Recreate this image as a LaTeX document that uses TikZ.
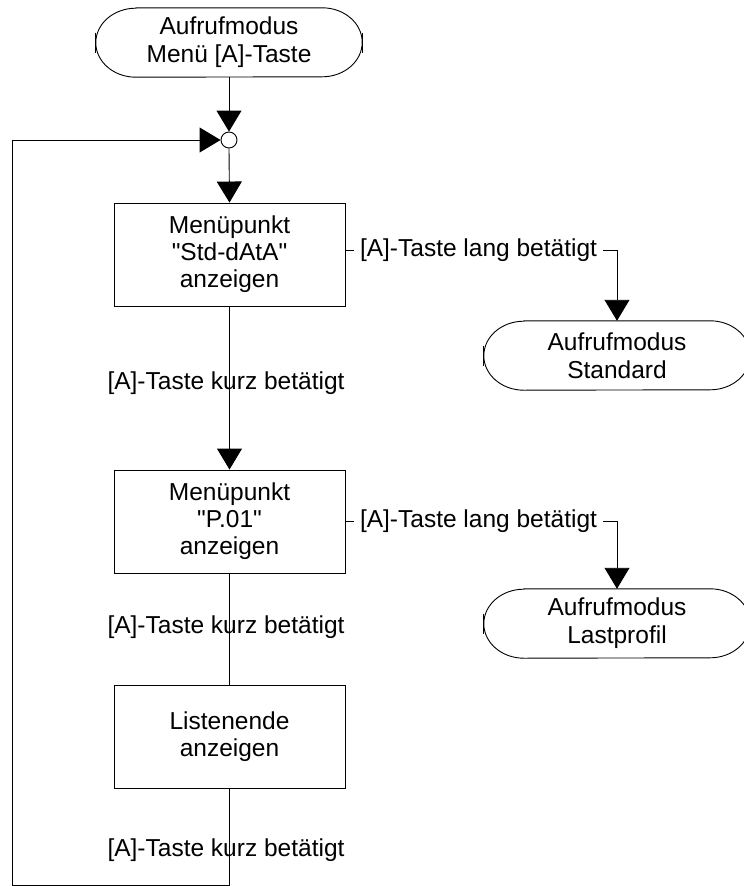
\documentclass[tikz,border=0pt]{standalone}
\usepackage{fontspec}
\setmainfont{Liberation Sans}[Ligatures=TeXOff]
\usetikzlibrary{arrows.meta}
\newcommand{\dq}{\char"22\relax}
\tikzset{
  ln/.style={draw=black,line width=0.9pt},
  arr/.style={ln,-{Triangle[width=25pt,length=21pt]}},
  stepbox/.style={draw=black,line width=0.9pt,rectangle,minimum width=231pt,minimum height=103pt,align=center,inner sep=0pt,font=\fontsize{24.5}{27}\selectfont},
  termbox/.style={rectangle,minimum width=266pt,minimum height=69pt,align=center,inner sep=0pt,font=\fontsize{24.5}{28}\selectfont},
  lbl/.style={font=\fontsize{24.5}{27}\selectfont,inner sep=0pt},
  junc/.style={circle,draw=black,line width=0.9pt,fill=white,minimum size=16pt,inner sep=0pt}
}
\newcommand{\termshape}[1]{%
  \draw[ln] ([xshift=40pt]#1.north west) -- ([xshift=-40pt]#1.north east)
    arc[start angle=90,end angle=-90,x radius=40pt,y radius=34.5pt]
    -- ([xshift=40pt]#1.south west)
    arc[start angle=270,end angle=90,x radius=40pt,y radius=34.5pt] -- cycle;
  \draw[ln] ([yshift=10pt]#1.west) -- ([yshift=-10pt]#1.west);
  \draw[ln] ([yshift=10pt]#1.east) -- ([yshift=-10pt]#1.east);
}
\begin{document}
\begin{tikzpicture}[x=1pt,y=-1pt]
\useasboundingbox (0,0) rectangle (744,886);
\fill[white] (0,0) rectangle (744,886);

% terminals
\node[termbox] (t1) at (229,42.5) {Aufrufmodus\\Menü [A]-Taste};
\termshape{t1}
\node[termbox] (std) at (617,355.5) {Aufrufmodus\\Standard};
\termshape{std}
\node[termbox] (lp) at (617,623.5) {Aufrufmodus\\Lastprofil};
\termshape{lp}

% junction
\node[junc] (j) at (229,140) {};

% boxes
\node[stepbox] (b1) at (229.5,254.5) {Menüpunkt\\\dq Std-dAtA\dq\\anzeigen};
\node[stepbox] (b2) at (229.5,521.5) {Menüpunkt\\\dq P.01\dq\\anzeigen};
\node[stepbox] (b3) at (229.5,736.5) {Listenende\\anzeigen};

% loop corner
\coordinate (lb) at (12,885);

% connectors
\draw[arr] (t1.south) -- (j.north);
\draw[arr] (j.south) -- (b1.north);
\draw[arr] (b1.south) -- (b2.north);
\draw[ln] (b2.south) -- (b3.north);
\draw[arr] (b3.south) |- (lb) |- (j.west);

\draw[arr] ([yshift=4.5pt]b1.east) -| (std.north)
  node[pos=0.245,fill=white,inner xsep=6pt,inner ysep=0pt,font=\fontsize{24.5}{27}\selectfont] (ll1) {[A]-Taste lang betätigt};
\draw[arr] (b2.east) -| (lp.north)
  node[pos=0.245,fill=white,inner xsep=6pt,inner ysep=0pt,font=\fontsize{24.5}{27}\selectfont] (ll2) {[A]-Taste lang betätigt};

% labels on vertical connectors
\node[lbl] (k1) at (226,383) {[A]-Taste kurz betätigt};
\node[lbl] (k2) at (226,627) {[A]-Taste kurz betätigt};
\node[lbl] (k3) at (226,850) {[A]-Taste kurz betätigt};
\end{tikzpicture}
\end{document}
